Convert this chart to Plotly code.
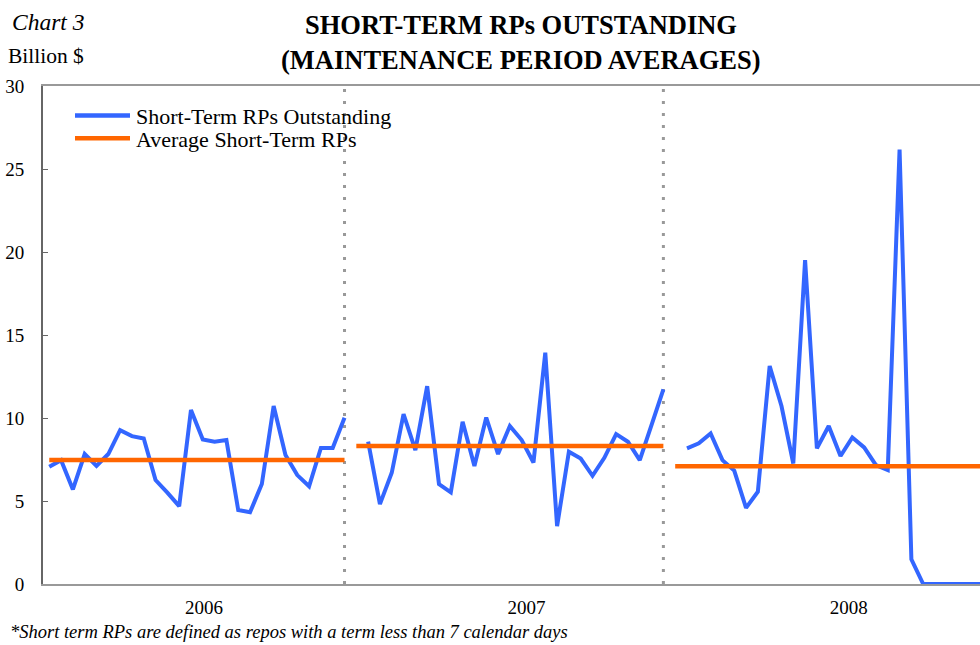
import plotly.graph_objects as go

# ---- data ----
years = ["2006", "2007", "2008"]
rp_2006 = [7.06, 7.46, 5.70, 7.83, 7.11, 7.83, 9.27, 8.91, 8.77, 6.26, 5.50, 4.69, 10.48,
           8.71, 8.57, 8.67, 4.46, 4.32, 6.02, 10.72, 7.77, 6.56, 5.89, 8.20, 8.20, 10.01]
rp_2007 = [8.57, 4.81, 6.70, 10.23, 8.07, 11.92, 6.02, 5.52, 9.77, 7.11, 10.03, 7.83, 9.52,
           8.67, 7.32, 13.93, 3.49, 7.97, 7.56, 6.52, 7.60, 9.03, 8.57, 7.46, 9.58, 11.72]
rp_2008 = [8.17, 8.47, 9.07, 7.46, 6.83, 4.59, 5.56, 13.13, 10.72, 7.26, 19.51, 8.17, 9.52,
           7.71, 8.83, 8.23, 7.16, 6.87, 26.17, 1.49, 0, 0, 0, 0, 0, 0]
avg_rp = [7.47, 8.31, 7.10]
y_ticks = [0, 5, 10, 15, 20, 25, 30]
legend_names = ["Short-Term RPs Outstanding", "Average Short-Term RPs"]

series = [rp_2006, rp_2007, rp_2008]

FONT = "Liberation Serif"
BLUE = "#3366FF"
ORANGE = "#FF6600"
GRAY = "#999999"

fig = go.Figure()

# x positions: maintenance-period slot index, one empty slot between years
starts = []
pos = 0
for vals in series:
    starts.append(pos)
    pos += len(vals) + 1

for i, vals in enumerate(series):
    xs = [starts[i] + k for k in range(len(vals))]
    fig.add_trace(go.Scatter(
        x=xs, y=vals, mode="lines",
        line=dict(color=BLUE, width=4),
        name=legend_names[0], showlegend=False,
    ))

for i, vals in enumerate(series):
    x0 = starts[i] - 1 if i > 0 else starts[i]
    x1 = starts[i] + len(vals) - 1
    fig.add_trace(go.Scatter(
        x=[x0, x1], y=[avg_rp[i], avg_rp[i]], mode="lines",
        line=dict(color=ORANGE, width=4.5),
        name=legend_names[1], showlegend=False,
    ))

# dotted year separators at the last period of each year
for i in range(len(series) - 1):
    xe = starts[i] + len(series[i]) - 1
    fig.add_shape(type="line", x0=xe, x1=xe, y0=0, y1=30, xref="x", yref="y",
                  line=dict(color="#999999", width=3, dash="3px,9px"), layer="below")

# year label positions on the slot axis (as placed in the reference)
year_label_slots = [13.1, 40.4, 67.7]

fig.update_layout(
    width=980, height=645,
    margin=dict(l=43, r=0, t=86, b=61, autoexpand=False),
    paper_bgcolor="white", plot_bgcolor="white",
    font=dict(family=FONT, size=16, color="black"),
    showlegend=False,
    xaxis=dict(range=[-0.53, 78.81], showgrid=False, zeroline=False, automargin=False,
               showline=True, linecolor=GRAY, linewidth=2, mirror=True,
               tickvals=year_label_slots, ticktext=years, ticks="",
               tickfont=dict(family=FONT, size=19), ticklabelstandoff=5),
    yaxis=dict(range=[0, 30], tickvals=y_ticks, showgrid=False, zeroline=False, automargin=False,
               showline=True, linecolor="#666666", linewidth=2,
               ticks="inside", ticklen=5, tickcolor="#666666",
               tickfont=dict(family=FONT, size=19), ticklabelstandoff=13),
)


def px(X):
    return (X - 43) / 937


def py(Y):
    return (584 - Y) / 498


# legend (drawn in paper space)
for name, color, Y in [(legend_names[0], BLUE, 115.5), (legend_names[1], ORANGE, 138.2)]:
    fig.add_shape(type="line", xref="paper", yref="paper",
                  x0=px(75), x1=px(130), y0=py(Y), y1=py(Y),
                  line=dict(color=color, width=4.5))
    fig.add_annotation(text=name, xref="paper", yref="paper", x=px(134), y=py(Y + 1),
                       xanchor="left", yanchor="middle", showarrow=False,
                       font=dict(family=FONT, size=22, color="black"))

fig.add_annotation(text="<b>SHORT-TERM RPs OUTSTANDING</b>", xref="paper", yref="paper",
                   x=px(521), y=py(25), xanchor="center", yanchor="middle",
                   showarrow=False, font=dict(family=FONT, size=26.5, color="black"))
fig.add_annotation(text="<b>(MAINTENANCE PERIOD AVERAGES)</b>", xref="paper", yref="paper",
                   x=px(521), y=py(60), xanchor="center", yanchor="middle",
                   showarrow=False, font=dict(family=FONT, size=26.5, color="black"))
fig.add_annotation(text="<i>Chart 3</i>", xref="paper", yref="paper",
                   x=px(10), y=py(22), xanchor="left", yanchor="middle",
                   showarrow=False, font=dict(family=FONT, size=23.5, color="black"))
fig.add_annotation(text="Billion $", xref="paper", yref="paper",
                   x=px(6), y=py(56), xanchor="left", yanchor="middle",
                   showarrow=False, font=dict(family=FONT, size=21.5, color="black"))
fig.add_annotation(text="<i>*Short term RPs are defined as repos with a term less than 7 calendar days</i>",
                   xref="paper", yref="paper",
                   x=px(8), y=py(632), xanchor="left", yanchor="middle",
                   showarrow=False, font=dict(family=FONT, size=18.5, color="black"))

# the page's default 8px body margin would shift the 980x645 figure; remove it
fig.write_html("out.html",
               config={"displayModeBar": False},
               post_script="document.body.style.margin='0';document.body.style.overflow='hidden';")
